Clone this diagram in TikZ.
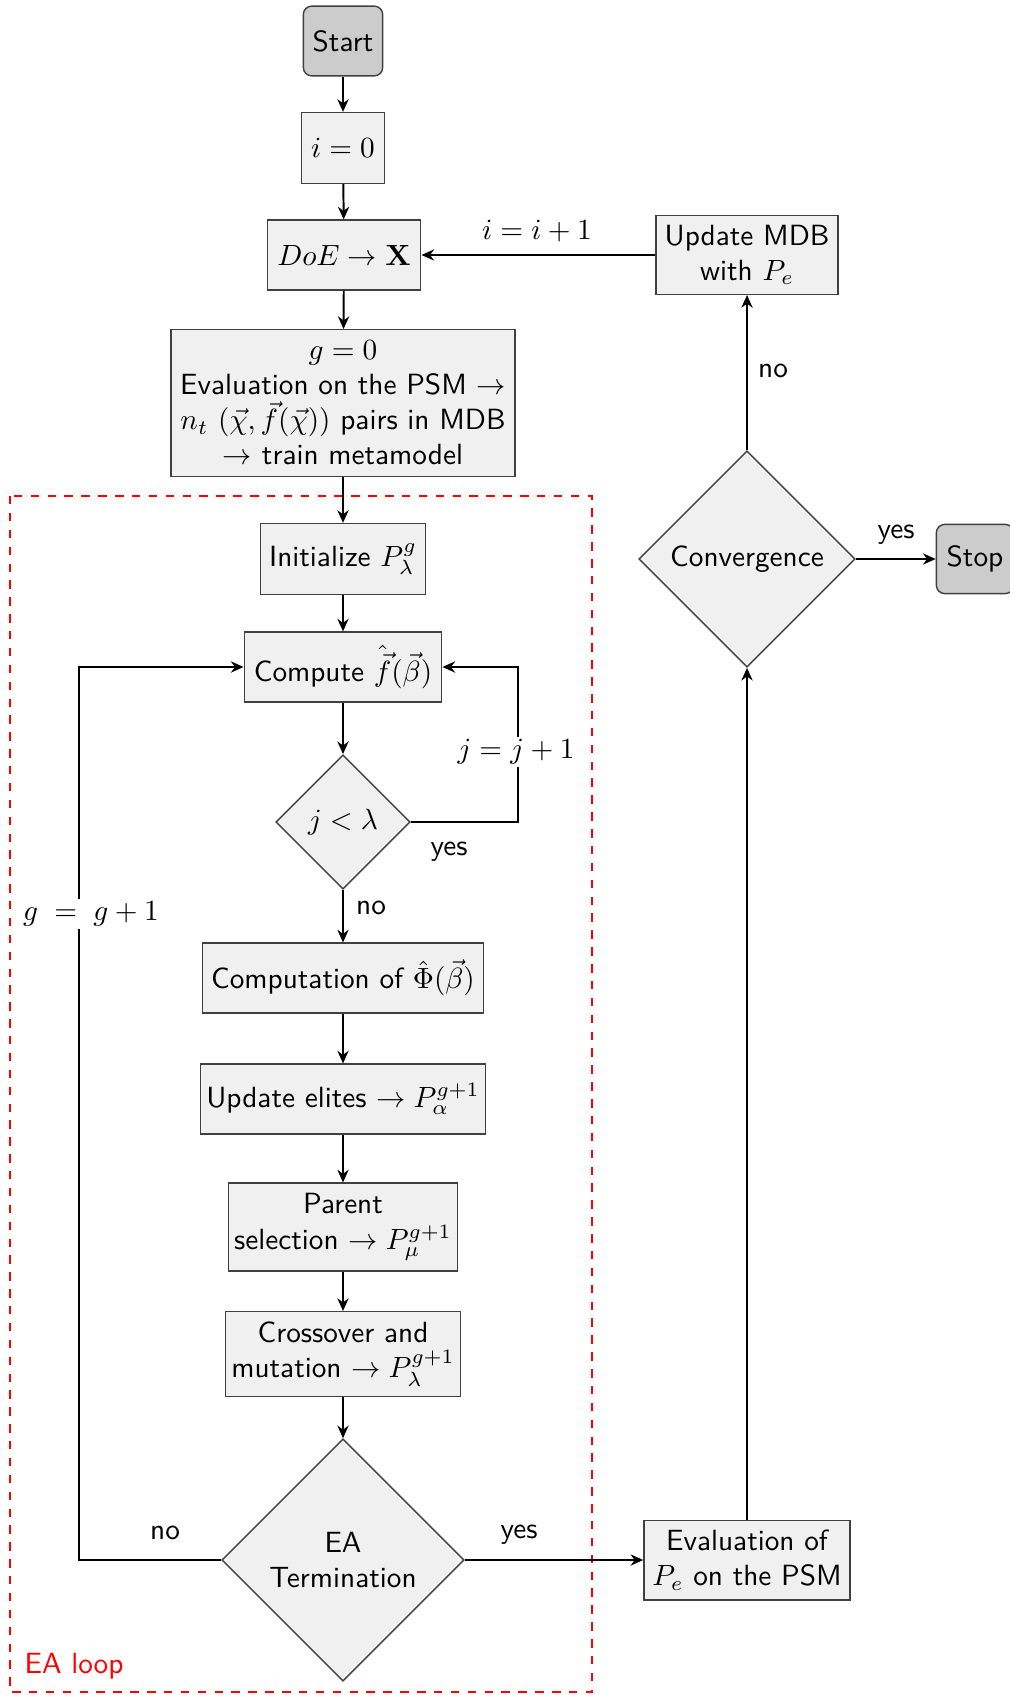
\RequirePackage{fix-cm}
\documentclass[tikz,border=0pt]{standalone}
\usetikzlibrary{shapes.geometric,arrows.meta}
\begin{document}
\begin{tikzpicture}[x=0.0125cm,y=-0.0125cm, font=\fontsize{10.4}{12.5}\selectfont\sffamily,
  box/.style={draw=black!75, fill=black!6, rectangle, align=center, inner sep=2pt, line width=0.5pt},
  term/.style={draw=black!75, fill=black!20, rectangle, rounded corners=3pt, align=center, line width=0.5pt},
  dec/.style={draw=black!75, fill=black!6, diamond, aspect=1, align=center, inner sep=1pt, line width=0.5pt},
  conn/.style={line width=0.7pt, -{Stealth[length=4.5pt,width=4pt]}},
  lab/.style={fill=white, inner sep=1pt}]
\useasboundingbox (0,0) rectangle (1010,1695);
\draw[red, dashed, line width=0.6pt] (10,496) rectangle (592,1692);
\node[red] (ealoop) at (74,1666) {EA loop};

\node[term, minimum width=28pt, minimum height=24.8pt] (start) at (343,41) {Start};
\node[box, minimum width=29.4pt, minimum height=25.2pt] (i0) at (343,148) {$i=0$};
\node[box, minimum width=54.6pt, minimum height=24.8pt] (doe) at (344,255) {$DoE \rightarrow \mathbf{X}$};
\node[box, minimum width=122.2pt, minimum height=52.1pt, inner sep=1pt] (g0) at (343,403)
  {$g=0$\\Evaluation on the PSM $\rightarrow$\\$n_t$ $(\vec{\chi},\vec{f}(\vec{\chi}))$ pairs in MDB\\$\rightarrow$ train metamodel};
\node[box, minimum width=58.5pt, minimum height=25.2pt] (init) at (343,559) {Initialize $P_{\lambda}^{g}$};
\node[box, minimum width=70.2pt, minimum height=24.8pt] (comp) at (343,667) {Compute $\hat{\vec{f}}(\vec{\beta})$};
\node[dec, minimum width=47.8pt, minimum height=47.8pt] (jl) at (343,822) {$j<\lambda$};
\node[box, minimum width=99.9pt, minimum height=24.8pt] (phi) at (343,978) {Computation of $\hat{\Phi}(\vec{\beta})$};
\node[box, minimum width=100.6pt, minimum height=24.8pt] (elite) at (343,1099) {Update elites $\rightarrow P_{\alpha}^{g+1}$};
\node[box, minimum width=81.1pt, minimum height=31.2pt] (par) at (343,1227) {Parent\\selection $\rightarrow P_{\mu}^{g+1}$};
\node[box, minimum width=83.3pt, minimum height=30.1pt] (cross) at (343,1354) {Crossover and\\mutation $\rightarrow P_{\lambda}^{g+1}$};
\node[dec, minimum width=86.1pt, minimum height=86.1pt] (eat) at (343,1560) {EA\\Termination};
\node[box, minimum width=73.3pt, minimum height=28.3pt] (evpe) at (747,1560) {Evaluation of\\$P_e$ on the PSM};
\node[dec, minimum width=76.9pt, minimum height=76.9pt] (conv) at (747,559) {Convergence};
\node[box, minimum width=64.8pt, minimum height=28pt] (upd) at (747,255) {Update MDB\\with $P_e$};
\node[term, minimum width=27.5pt, minimum height=24.6pt] (stop) at (975,559) {Stop};

\draw[conn] (start) -- (i0);
\draw[conn] (i0) -- (doe);
\draw[conn] (doe) -- (g0);
\draw[conn] (g0) -- (init);
\draw[conn] (init) -- (comp);
\draw[conn] (comp) -- (jl);
\draw[conn] (jl) -- (phi);
\draw[conn] (phi) -- (elite);
\draw[conn] (elite) -- (par);
\draw[conn] (par) -- (cross);
\draw[conn] (cross) -- (eat);

\coordinate (jr) at (518,822);
\coordinate (jt) at (518,667);
\draw[conn] (jl.east) -- (jr) -- (jt) -- (comp.east);
\node[lab] (jlab) at (516,752) {$j=j+1$};
\node (jyes) at (449,852) {yes};
\node (jno) at (371,908) {no};

\coordinate (gl) at (79,1560);
\coordinate (gt) at (79,667);
\draw[conn] (eat.west) -- (gl) -- (gt) -- (comp.west);
\node[lab] (glab) at (91,914) {$g\;=\;g+1$};
\node (eno) at (165,1533) {no};

\draw[conn] (eat.east) -- (evpe.west);
\node (eyes) at (519,1535) {yes};

\draw[conn] (evpe) -- (conv);
\draw[conn] (conv) -- (upd);
\node (cno) at (773,371) {no};
\draw[conn] (conv.east) -- (stop.west);
\node (cyes) at (896,535) {yes};
\draw[conn] (upd.west) -- (doe.east);
\node (ilab) at (537,231) {$i=i+1$};
\end{tikzpicture}
\end{document}
